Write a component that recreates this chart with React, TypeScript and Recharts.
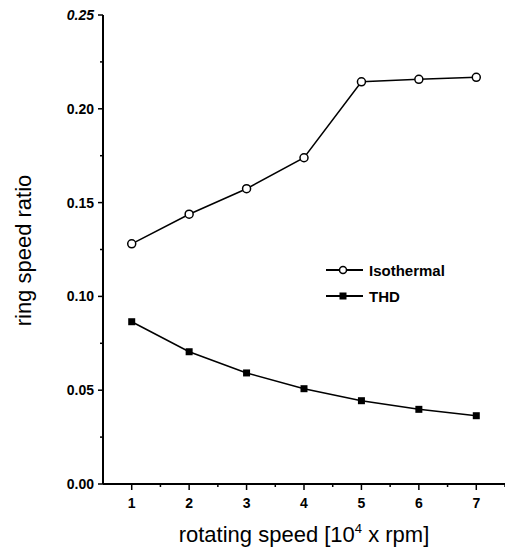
import React from "react";
import { LineChart, Line, XAxis, YAxis, Legend } from "recharts";

// rotating speed in units of 10^4 rpm
const speeds = [1, 2, 3, 4, 5, 6, 7];
const isothermal = [0.128, 0.1438, 0.1574, 0.1739, 0.2144, 0.2157, 0.2168];
const thd = [0.0865, 0.0705, 0.0592, 0.0508, 0.0444, 0.0398, 0.0364];

const xTicks = [0.5, 1, 1.5, 2, 2.5, 3, 3.5, 4, 4.5, 5, 5.5, 6, 6.5, 7, 7.5];
const yTicks = [0, 0.025, 0.05, 0.075, 0.1, 0.125, 0.15, 0.175, 0.2, 0.225, 0.25];

const data = speeds.map((s, i) => ({ speed: s, isothermal: isothermal[i], thd: thd[i] }));

const FONT = "'Liberation Sans', Arial, Helvetica, sans-serif";

const XTick = (props: any) => {
  const { x, y, payload } = props;
  const v = payload.value as number;
  const major = Number.isInteger(v);
  if (v === 0.5) return null;
  return (
    <g>
      <line x1={x} x2={x} y1={y} y2={y + (major ? 6 : 3)} stroke="#000" strokeWidth={1.5} />
      {major && (
        <text x={x} y={y + 24} textAnchor="middle" fontFamily={FONT} fontSize={14} fontWeight="bold" fill="#000">
          {v}
        </text>
      )}
    </g>
  );
};

const YTick = (props: any) => {
  const { x, y, payload } = props;
  const v = payload.value as number;
  const major = Math.abs(Math.round(v * 20) - v * 20) < 1e-6;
  return (
    <g>
      <line x1={x} x2={x - (major ? 5 : 3)} y1={y} y2={y} stroke="#000" strokeWidth={1.5} />
      {major && (
        <text
          x={x - 9}
          y={y + 5}
          textAnchor="end"
          fontFamily={FONT}
          fontSize={14}
          fontWeight="bold"
          fontStyle={v === 0.25 ? "italic" : "normal"}
          fill="#000"
        >
          {v.toFixed(2)}
        </text>
      )}
    </g>
  );
};

const XLabel = (props: any) => {
  const { viewBox } = props;
  const cx = viewBox.x + viewBox.width / 2;
  return (
    <text x={cx} y={viewBox.y + 58} textAnchor="middle" fontFamily={FONT} fontSize={22} fill="#000">
      rotating speed [10
      <tspan dy={-9} fontSize={13}>4</tspan>
      <tspan dy={9}> x rpm]</tspan>
    </text>
  );
};

const YLabel = (props: any) => {
  const { viewBox } = props;
  const cy = viewBox.y + viewBox.height / 2 + 1;
  const bx = 31;
  return (
    <text
      x={bx}
      y={cy}
      transform={`rotate(-90, ${bx}, ${cy})`}
      textAnchor="middle"
      fontFamily={FONT}
      fontSize={22}
      fill="#000"
    >
      ring speed ratio
    </text>
  );
};

const OpenCircle = (props: any) => {
  const { cx, cy } = props;
  return <circle cx={cx} cy={cy} r={4} fill="#fff" stroke="#000" strokeWidth={1.5} />;
};

const FilledSquare = (props: any) => {
  const { cx, cy } = props;
  return <rect x={cx - 3.5} y={cy - 3.5} width={7} height={7} fill="#000" />;
};

const LegendContent = (props: any) => {
  const { payload } = props;
  return (
    <div style={{ fontFamily: FONT }}>
      {(payload || []).map((p: any, i: number) => (
        <div key={i} style={{ display: "flex", alignItems: "center", height: 26 }}>
          <svg width={43} height={12} style={{ display: "block" }}>
            <line x1={0} x2={37} y1={6} y2={6} stroke="#000" strokeWidth={2} />
            {p.dataKey === "isothermal" ? (
              <circle cx={17} cy={6} r={3.5} fill="#fff" stroke="#000" strokeWidth={1.5} />
            ) : (
              <rect x={13.5} y={2.5} width={7} height={7} fill="#000" />
            )}
          </svg>
          <span style={{ fontSize: 15, fontWeight: "bold", color: "#000", lineHeight: "15px" }}>{p.value}</span>
        </div>
      ))}
    </div>
  );
};

export default function App() {
  return (
    <div style={{ position: "absolute", left: 0, top: 0, width: 505, height: 551, background: "#fff" }}>
      <LineChart width={505} height={551} data={data} margin={{ top: 15, right: 0, bottom: 0, left: 0 }}>
        <XAxis
          dataKey="speed"
          type="number"
          domain={[0.5, 7.5]}
          ticks={xTicks}
          interval={0}
          height={67}
          tickSize={0}
          tickMargin={0}
          tickLine={false}
          tick={<XTick />}
          axisLine={{ stroke: "#000", strokeWidth: 2 }}
          allowDataOverflow
          label={<XLabel />}
        />
        <YAxis
          type="number"
          domain={[0, 0.25]}
          ticks={yTicks}
          interval={0}
          width={103}
          tickSize={0}
          tickMargin={0}
          tickLine={false}
          tick={<YTick />}
          axisLine={{ stroke: "#000", strokeWidth: 2 }}
          allowDataOverflow
          label={<YLabel />}
        />
        <Legend
          layout="vertical"
          align="center"
          verticalAlign="middle"
          content={<LegendContent />}
          wrapperStyle={{ position: "absolute", left: 326, top: 257, width: 140 }}
        />
        <Line
          type="linear"
          dataKey="isothermal"
          name="Isothermal"
          stroke="#000"
          strokeWidth={1.5}
          dot={<OpenCircle />}
          activeDot={false}
          isAnimationActive={false}
        />
        <Line
          type="linear"
          dataKey="thd"
          name="THD"
          stroke="#000"
          strokeWidth={1.5}
          dot={<FilledSquare />}
          activeDot={false}
          isAnimationActive={false}
        />
      </LineChart>
    </div>
  );
}
